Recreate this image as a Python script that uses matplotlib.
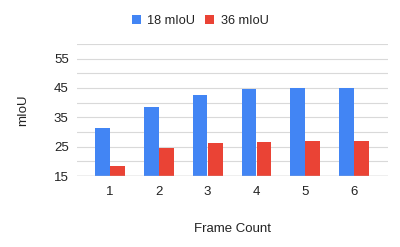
import matplotlib
matplotlib.use("Agg")
import matplotlib.pyplot as plt
import numpy as np

# data
frames = [1, 2, 3, 4, 5, 6]
miou_18 = [31.5, 38.6, 42.5, 44.8, 45.1, 45.0]
miou_36 = [18.5, 24.7, 26.2, 26.5, 26.9, 26.8]
yticks = [15, 25, 35, 45, 55]

BLUE = "#4285F4"
RED = "#EA4335"
FS = 9.5

plt.rcParams['font.family'] = ['Liberation Sans', 'DejaVu Sans']

fig = plt.figure(figsize=(4, 2.47), dpi=100)
ax = fig.add_axes([0.1925, 0.2874, 0.7775, 0.5345])

x = np.array(frames)
w = 0.30
ax.bar(x - 0.155, miou_18, w, bottom=0, color=BLUE, label="18 mIoU", zorder=3)
ax.bar(x + 0.155, miou_36, w, bottom=0, color=RED, label="36 mIoU", zorder=3)

ax.set_ylim(15, 60)
ax.set_xlim(0.32, 6.70)
ax.set_yticks(yticks)
for v in np.arange(15, 61, 5):
    ax.axhline(v, color="#d9d9d9", lw=0.8, zorder=1)
ax.axhline(15, color="#bdbdbd", lw=1.0, zorder=4)

ax.set_xticks(frames)
ax.set_xticklabels([str(f) for f in frames])
ax.tick_params(length=0, labelsize=FS, colors="#222222")
ax.tick_params(axis="x", pad=7)
ax.tick_params(axis="y", pad=6)
for s in ax.spines.values():
    s.set_visible(False)

ax.set_xlabel("Frame Count", fontsize=FS, color="#222222", labelpad=18)
ax.set_ylabel("mIoU", fontsize=FS, color="#222222", labelpad=18)

leg = fig.legend(loc="center", bbox_to_anchor=(0.5, 0.915), ncol=2, frameon=False,
                 fontsize=9.2, handlelength=0.7, handleheight=0.7, handletextpad=0.5,
                 columnspacing=0.8, labelcolor="#222222")

fig.savefig("out.png", dpi=100)
